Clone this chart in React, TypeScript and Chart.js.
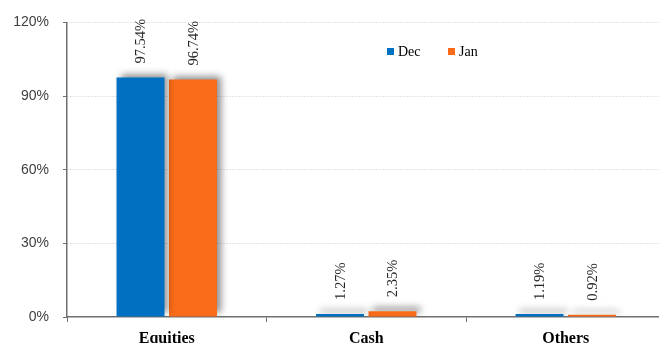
import React, { useEffect, useRef } from "react";
import { Chart, registerables } from "chart.js";

Chart.register(...registerables);

const categories = ["Equities", "Cash", "Others"];
const seriesNames = ["Dec", "Jan"];
const decValues = [97.54, 1.27, 1.19];
const janValues = [96.74, 2.35, 0.92];
const yTicks = [0, 30, 60, 90, 120];

const BLUE = "#0070C0";
const ORANGE = "#F96B18";

// Soft drop shadow behind the bars
const barShadow = {
  id: "barShadow",
  beforeDatasetsDraw(chart: any) {
    const ctx = chart.ctx;
    ctx.save();
    ctx.shadowColor = "rgba(0,0,0,0.45)";
    ctx.shadowBlur = 7;
    ctx.shadowOffsetX = 4;
    ctx.shadowOffsetY = -4;
  },
  afterDatasetsDraw(chart: any) {
    chart.ctx.restore();
  },
};

// Vertical percentage labels above each bar
const valueLabels = {
  id: "valueLabels",
  afterDatasetsDraw(chart: any) {
    const ctx = chart.ctx;
    ctx.save();
    ctx.shadowColor = "transparent";
    ctx.font = '14.5px "Liberation Serif"';
    ctx.fillStyle = "#262626";
    ctx.textAlign = "left";
    ctx.textBaseline = "middle";
    chart.data.datasets.forEach((ds: any, i: number) => {
      const meta = chart.getDatasetMeta(i);
      meta.data.forEach((bar: any, j: number) => {
        ctx.save();
        ctx.translate(bar.x + 1, bar.y - 14);
        ctx.rotate(-Math.PI / 2);
        ctx.fillText(ds.data[j].toFixed(2) + "%", 0, 0);
        ctx.restore();
      });
    });
    ctx.restore();
  },
};

// Compact legend placed inside the plot area
const innerLegend = {
  id: "innerLegend",
  afterDraw(chart: any) {
    const ctx = chart.ctx;
    const positions = [387, 448];
    ctx.save();
    ctx.font = '14px "Liberation Serif"';
    ctx.textBaseline = "middle";
    ctx.textAlign = "left";
    chart.data.datasets.forEach((ds: any, i: number) => {
      const x = positions[i];
      ctx.fillStyle = ds.backgroundColor;
      ctx.fillRect(x, 48, 7, 7);
      ctx.fillStyle = "#000";
      ctx.fillText(ds.label, x + 11, 52);
    });
    ctx.restore();
  },
};

export default function App() {
  const ref = useRef<HTMLCanvasElement>(null);

  useEffect(() => {
    if (!ref.current) return;
    const chart = new Chart(ref.current, {
      type: "bar",
      data: {
        labels: categories,
        datasets: [
          { label: seriesNames[0], data: decValues, backgroundColor: BLUE },
          { label: seriesNames[1], data: janValues, backgroundColor: ORANGE },
        ],
      },
      options: {
        responsive: false,
        animation: false,
        devicePixelRatio: 1,
        layout: { padding: { top: 22, right: 14.5, left: 0, bottom: 0 } },
        datasets: {
          bar: { categoryPercentage: 0.526, barPercentage: 0.914 },
        },
        plugins: {
          legend: { display: false },
          tooltip: { enabled: false },
        },
        scales: {
          x: {
            offset: true,
            grid: {
              display: true,
              drawOnChartArea: false,
              drawTicks: true,
              tickLength: 5,
              tickColor: "#707070",
              offset: true,
            },
            border: { display: true, color: "#707070", width: 1.5 },
            ticks: {
              padding: 7,
              color: "#000",
              font: { family: "Liberation Serif", size: 16, weight: "bold" },
            },
            afterFit: (s: any) => {
              s.height = 360 - 317;
            },
          },
          y: {
            min: 0,
            max: 120,
            afterBuildTicks: (s: any) => {
              s.ticks = yTicks.map((v) => ({ value: v }));
            },
            grid: {
              color: (c: any) => (c.tick && c.tick.value === 0 ? "transparent" : "#C8C8C8"),
              tickColor: "#707070",
              tickLength: 4,
              lineWidth: 1,
            },
            border: { display: true, color: "#707070", width: 1.5, dash: [1, 2] },
            ticks: {
              padding: 14,
              color: "#404040",
              font: { family: "Liberation Sans", size: 14 },
              callback: (v: any) => v + "%",
            },
            afterFit: (s: any) => {
              s.width = 67;
            },
          },
        },
      },
      plugins: [barShadow, valueLabels, innerLegend],
    });
    return () => chart.destroy();
  }, []);

  return (
    <div style={{ position: "fixed", left: 0, top: 0, width: 680, height: 360, background: "#fff" }}>
      <canvas ref={ref} width={680} height={360} style={{ display: "block" }} />
    </div>
  );
}
